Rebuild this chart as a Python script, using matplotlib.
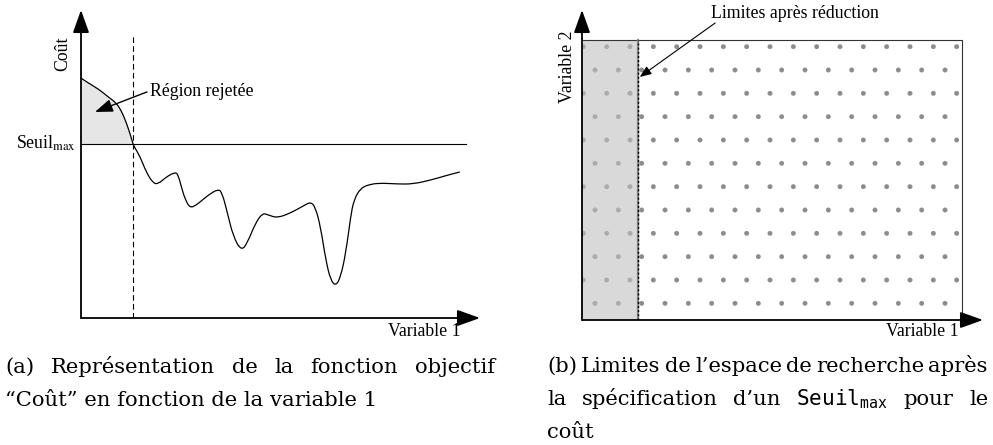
import matplotlib.pyplot as plt
from matplotlib.patches import Rectangle, PathPatch
from matplotlib.path import Path

# hatch cells are one inch wide, so the dpi sets the dot spacing
DPI = 140
k = 100 / DPI
plt.rcParams['hatch.linewidth'] = 0.1

W, H = 993, 445

# (a) cost curve
var1 = [0, 1.8, 4.3, 6.8, 8.8, 10.0, 11.3, 12.5, 13.0, 13.5, 14.8, 16.3, 18.0,
        19.3, 21.3, 23.6, 24.3, 25.1, 26.1, 27.3, 28.8, 29.8, 31.8, 34.3, 35.3,
        36.6, 38.1, 40.1, 41.6, 43.6, 45.4, 46.9, 49.1, 52.4, 55.6, 57.4, 58.6,
        59.9, 61.2, 62.4, 63.7, 64.9, 66.2, 67.4, 68.2, 69.9, 72.4, 75.4, 79.2,
        83.0, 87.5, 91.7, 94.7]
cout = [77.9, 76.3, 74.4, 71.8, 69.8, 67.5, 63.6, 58.8, 56.5, 55.2, 52.3, 47.4,
        43.8, 43.5, 45.8, 47.4, 46.4, 42.5, 38.3, 35.7, 36.7, 37.7, 39.9, 41.9,
        40.6, 34.1, 26.3, 21.8, 24.4, 30.8, 34.1, 33.4, 32.5, 34.1, 36.4, 37.7,
        36.0, 29.5, 18.8, 12.3, 10.4, 13.3, 21.1, 32.8, 38.3, 42.2, 43.5, 43.8,
        43.5, 43.5, 44.8, 46.4, 47.4]
seuil_max = 56.5
seuil_fin = 96.2
x_limite = 13.0
limite_haut = 91.9

# (b) search space
var1_max = 94.8
var2_max = 90.3
limite_b = 14.0

caption_a = ["(a) Représentation de la fonction objectif",
             "“Coût” en fonction de la variable 1"]
caption_b = ["(b) Limites de l’espace de recherche après",
             r"la spécification d’un $\mathtt{Seuil}_{\mathtt{max}}$ pour le",
             "coût"]


def fx(px):
    return px / W


def fy(py):
    return 1 - py / H


lab = dict(family='Liberation Serif', fontsize=12.8 * k)
cap = dict(family='DejaVu Serif', fontsize=15.2 * k, math_fontfamily='dejavusans')
axis_arrow = dict(arrowstyle='-|>,head_length=0.7,head_width=0.25',
                  mutation_scale=20 * k, lw=1.3 * k, color='black',
                  shrinkA=0, shrinkB=0)

fig = plt.figure(figsize=(W / DPI, H / DPI), dpi=DPI)

# ---- panel (a)
axa = fig.add_axes([fx(81), fy(318), (480 - 81) / W, (318 - 10) / H])
axa.set_xlim(0, 99.75)
axa.set_ylim(0, 100)
axa.axis('off')

axa.fill_between(var1, cout, seuil_max, where=[v <= x_limite for v in var1],
                 color='#e6e6e6', lw=0)
axa.plot([0, seuil_fin], [seuil_max, seuil_max], color='black', lw=0.8 * k)
axa.plot([x_limite, x_limite], [0, limite_haut], color='black', lw=0.8 * k,
         dashes=(5, 3))

# smooth the read points with quadratic bezier pieces
pts = list(zip(var1, cout))
verts = [pts[0]]
codes = [Path.MOVETO]
for p, q in zip(pts[1:-1], pts[2:]):
    verts += [p, ((p[0] + q[0]) / 2, (p[1] + q[1]) / 2)]
    codes += [Path.CURVE3, Path.CURVE3]
verts.append(pts[-1])
codes.append(Path.LINETO)
axa.add_patch(PathPatch(Path(verts, codes), fill=False, color='black',
                        lw=0.9 * k))

axa.annotate('', xy=(0, 1), xytext=(0, 0), xycoords='axes fraction',
             arrowprops=axis_arrow, annotation_clip=False)
axa.annotate('', xy=(1, 0), xytext=(0, 0), xycoords='axes fraction',
             arrowprops=axis_arrow, annotation_clip=False)

axa.annotate('', xy=(3.5, 66.9), xytext=(16.5, 73.4),
             arrowprops=dict(arrowstyle='-|>,head_length=0.6,head_width=0.22',
                             mutation_scale=18 * k, lw=1.0 * k, color='black',
                             shrinkA=0, shrinkB=0))
fig.text(fx(150), fy(92), 'Région rejetée', ha='left', va='center', **lab)
fig.text(fx(76), fy(149), r'Seuil$_{\mathrm{max}}$', ha='right', va='baseline',
         math_fontfamily='stix', **lab)
fig.text(fx(63), fy(54), 'Coût', rotation=90, ha='center', va='center', **lab)
fig.text(fx(424), fy(331), 'Variable 1', ha='center', va='center', **lab)

# ---- panel (b)
axb = fig.add_axes([fx(582), fy(320), (983 - 582) / W, (320 - 10) / H])
axb.set_xlim(0, 100)
axb.set_ylim(0, 100)
axb.axis('off')

axb.add_patch(Rectangle((0, 0), var1_max, var2_max, fill=False, hatch='.',
                        edgecolor='#8c8c8c', lw=0))
axb.add_patch(Rectangle((0, 0), limite_b, var2_max, facecolor='#d9d9d9',
                        hatch='.', edgecolor='#ababab', lw=0))
axb.plot([0, var1_max, var1_max], [var2_max, var2_max, 0], color='#333333',
         lw=0.8 * k)
axb.plot([limite_b, limite_b], [0, var2_max], color='#888888', lw=1.6 * k)
axb.plot([limite_b, limite_b], [0, var2_max], color='black', lw=1.0 * k,
         dashes=(1.5, 1.5))

axb.annotate('', xy=(0, 1), xytext=(0, 0), xycoords='axes fraction',
             arrowprops=axis_arrow, annotation_clip=False)
axb.annotate('', xy=(1, 0), xytext=(0, 0), xycoords='axes fraction',
             arrowprops=axis_arrow, annotation_clip=False)

axb.annotate('', xy=(limite_b + 0.4, 78.4), xytext=(33.2, 95.8),
             arrowprops=dict(arrowstyle='-|>,head_length=0.5,head_width=0.2',
                             mutation_scale=14 * k, lw=0.8 * k, color='black',
                             shrinkA=0, shrinkB=0), annotation_clip=False)
fig.text(fx(795), fy(14), 'Limites après réduction', ha='center', va='center',
         **lab)
fig.text(fx(567), fy(67), 'Variable 2', rotation=90, ha='center', va='center',
         **lab)
fig.text(fx(922), fy(332), 'Variable 1', ha='center', va='center', **lab)

# ---- captions, justified like the LaTeX source
renderer = fig.canvas.get_renderer()


def caption(lines, x0, x1, y0, step):
    for i, line in enumerate(lines):
        y = fy(y0 + i * step)
        if i == len(lines) - 1:
            fig.text(fx(x0), y, line, ha='left', va='baseline', **cap)
            continue
        words = line.split(' ')
        texts = [fig.text(0, y, w, ha='left', va='baseline', **cap)
                 for w in words]
        widths = [t.get_window_extent(renderer).width for t in texts]
        gap = (x1 - x0 - sum(widths)) / (len(words) - 1)
        x = x0
        for t, w in zip(texts, widths):
            t.set_x(fx(x))
            x += w + gap


caption(caption_a, 5, 495, 373, 33)
caption(caption_b, 547, 988, 372, 33)

fig.savefig('out.png', dpi=DPI)
